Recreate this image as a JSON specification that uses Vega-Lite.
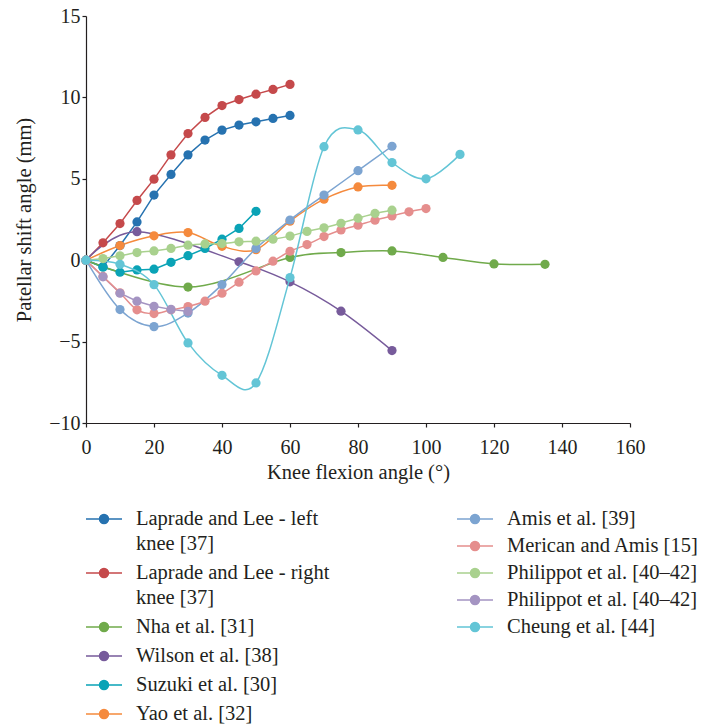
{
  "$schema": "https://vega.github.io/schema/vega-lite/v6.json",
  "width": 544,
  "height": 407,
  "autosize": {"type": "none"},
  "padding": {"left": 86, "top": 16, "right": 75, "bottom": 302},
  "background": "white",
  "config": {
    "font": "'Liberation Serif', 'Times New Roman', 'DejaVu Serif', serif",
    "view": {"stroke": null},
    "axis": {
      "grid": false,
      "domainColor": "#231f20",
      "tickColor": "#231f20",
      "labelColor": "#231f20",
      "titleColor": "#231f20",
      "labelFont": "'Liberation Serif', 'Times New Roman', 'DejaVu Serif', serif",
      "titleFont": "'Liberation Serif', 'Times New Roman', 'DejaVu Serif', serif",
      "labelFontSize": 20,
      "titleFontSize": 20.5,
      "titleFontWeight": "normal",
      "tickSize": 4,
      "domainWidth": 1.2,
      "tickWidth": 1.2,
      "labelFlush": false,
      "labelOverlap": false
    },
    "legend": {
      "labelFont": "'Liberation Serif', 'Times New Roman', 'DejaVu Serif', serif",
      "labelFontSize": 20.5,
      "labelColor": "#231f20",
      "labelLimit": 400,
      "symbolType": "M-1.8,0L1.8,0M-0.45,0A0.45,0.45 0 1,0 0.45,0A0.45,0.45 0 1,0 -0.45,0M-0.32,0A0.32,0.32 0 1,0 0.32,0A0.32,0.32 0 1,0 -0.32,0M-0.2,0A0.2,0.2 0 1,0 0.2,0A0.2,0.2 0 1,0 -0.2,0M-0.08,0A0.08,0.08 0 1,0 0.08,0A0.08,0.08 0 1,0 -0.08,0",
      "symbolSize": 400,
      "symbolStrokeWidth": 1.5,
      "symbolOpacity": 1,
      "rowPadding": 7,
      "padding": 0,
      "offset": 0,
      "labelBaseline": "top"
    }
  },
  "datasets": {
    "d": [
      {"s": "Laprade and Lee - left|knee [37]", "x": 0, "y": 0},
      {"s": "Laprade and Lee - left|knee [37]", "x": 5, "y": -0.4},
      {"s": "Laprade and Lee - left|knee [37]", "x": 10, "y": 0.9},
      {"s": "Laprade and Lee - left|knee [37]", "x": 15, "y": 2.35},
      {"s": "Laprade and Lee - left|knee [37]", "x": 20, "y": 4.0},
      {"s": "Laprade and Lee - left|knee [37]", "x": 25, "y": 5.27},
      {"s": "Laprade and Lee - left|knee [37]", "x": 30, "y": 6.47},
      {"s": "Laprade and Lee - left|knee [37]", "x": 35, "y": 7.38},
      {"s": "Laprade and Lee - left|knee [37]", "x": 40, "y": 7.99},
      {"s": "Laprade and Lee - left|knee [37]", "x": 45, "y": 8.3},
      {"s": "Laprade and Lee - left|knee [37]", "x": 50, "y": 8.5},
      {"s": "Laprade and Lee - left|knee [37]", "x": 55, "y": 8.71},
      {"s": "Laprade and Lee - left|knee [37]", "x": 60, "y": 8.89},
      {"s": "Laprade and Lee - right|knee [37]", "x": 0, "y": 0},
      {"s": "Laprade and Lee - right|knee [37]", "x": 5, "y": 1.07},
      {"s": "Laprade and Lee - right|knee [37]", "x": 10, "y": 2.25},
      {"s": "Laprade and Lee - right|knee [37]", "x": 15, "y": 3.67},
      {"s": "Laprade and Lee - right|knee [37]", "x": 20, "y": 4.98},
      {"s": "Laprade and Lee - right|knee [37]", "x": 25, "y": 6.47},
      {"s": "Laprade and Lee - right|knee [37]", "x": 30, "y": 7.78},
      {"s": "Laprade and Lee - right|knee [37]", "x": 35, "y": 8.77},
      {"s": "Laprade and Lee - right|knee [37]", "x": 40, "y": 9.5},
      {"s": "Laprade and Lee - right|knee [37]", "x": 45, "y": 9.87},
      {"s": "Laprade and Lee - right|knee [37]", "x": 50, "y": 10.2},
      {"s": "Laprade and Lee - right|knee [37]", "x": 55, "y": 10.49},
      {"s": "Laprade and Lee - right|knee [37]", "x": 60, "y": 10.8},
      {"s": "Nha et al. [31]", "x": 0, "y": 0},
      {"s": "Nha et al. [31]", "x": 30, "y": -1.65},
      {"s": "Nha et al. [31]", "x": 60, "y": 0.17},
      {"s": "Nha et al. [31]", "x": 75, "y": 0.47},
      {"s": "Nha et al. [31]", "x": 90, "y": 0.57},
      {"s": "Nha et al. [31]", "x": 105, "y": 0.17},
      {"s": "Nha et al. [31]", "x": 120, "y": -0.23},
      {"s": "Nha et al. [31]", "x": 135, "y": -0.25},
      {"s": "Wilson et al. [38]", "x": 0, "y": 0},
      {"s": "Wilson et al. [38]", "x": 15, "y": 1.75},
      {"s": "Wilson et al. [38]", "x": 45, "y": -0.1},
      {"s": "Wilson et al. [38]", "x": 60, "y": -1.33},
      {"s": "Wilson et al. [38]", "x": 75, "y": -3.13},
      {"s": "Wilson et al. [38]", "x": 90, "y": -5.55},
      {"s": "Suzuki et al. [30]", "x": 0, "y": 0},
      {"s": "Suzuki et al. [30]", "x": 5, "y": -0.43},
      {"s": "Suzuki et al. [30]", "x": 10, "y": -0.74},
      {"s": "Suzuki et al. [30]", "x": 15, "y": -0.6},
      {"s": "Suzuki et al. [30]", "x": 20, "y": -0.55},
      {"s": "Suzuki et al. [30]", "x": 25, "y": -0.13},
      {"s": "Suzuki et al. [30]", "x": 30, "y": 0.28},
      {"s": "Suzuki et al. [30]", "x": 35, "y": 0.72},
      {"s": "Suzuki et al. [30]", "x": 40, "y": 1.29},
      {"s": "Suzuki et al. [30]", "x": 45, "y": 1.95},
      {"s": "Suzuki et al. [30]", "x": 50, "y": 3.0},
      {"s": "Yao et al. [32]", "x": 0, "y": 0},
      {"s": "Yao et al. [32]", "x": 10, "y": 0.9},
      {"s": "Yao et al. [32]", "x": 20, "y": 1.5},
      {"s": "Yao et al. [32]", "x": 30, "y": 1.7},
      {"s": "Yao et al. [32]", "x": 40, "y": 0.85},
      {"s": "Yao et al. [32]", "x": 50, "y": 0.65},
      {"s": "Yao et al. [32]", "x": 60, "y": 2.4},
      {"s": "Yao et al. [32]", "x": 70, "y": 3.75},
      {"s": "Yao et al. [32]", "x": 80, "y": 4.5},
      {"s": "Yao et al. [32]", "x": 90, "y": 4.6},
      {"s": "Amis et al. [39]", "x": 0, "y": 0},
      {"s": "Amis et al. [39]", "x": 10, "y": -3.03},
      {"s": "Amis et al. [39]", "x": 20, "y": -4.08},
      {"s": "Amis et al. [39]", "x": 30, "y": -3.25},
      {"s": "Amis et al. [39]", "x": 40, "y": -1.5},
      {"s": "Amis et al. [39]", "x": 50, "y": 0.72},
      {"s": "Amis et al. [39]", "x": 60, "y": 2.47},
      {"s": "Amis et al. [39]", "x": 70, "y": 4.0},
      {"s": "Amis et al. [39]", "x": 80, "y": 5.5},
      {"s": "Amis et al. [39]", "x": 90, "y": 7.0},
      {"s": "Merican and Amis [15]", "x": 0, "y": 0},
      {"s": "Merican and Amis [15]", "x": 5, "y": -1.0},
      {"s": "Merican and Amis [15]", "x": 10, "y": -2.0},
      {"s": "Merican and Amis [15]", "x": 15, "y": -3.05},
      {"s": "Merican and Amis [15]", "x": 20, "y": -3.28},
      {"s": "Merican and Amis [15]", "x": 25, "y": -3.05},
      {"s": "Merican and Amis [15]", "x": 30, "y": -2.85},
      {"s": "Merican and Amis [15]", "x": 35, "y": -2.52},
      {"s": "Merican and Amis [15]", "x": 40, "y": -2.03},
      {"s": "Merican and Amis [15]", "x": 45, "y": -1.35},
      {"s": "Merican and Amis [15]", "x": 50, "y": -0.66},
      {"s": "Merican and Amis [15]", "x": 55, "y": -0.06},
      {"s": "Merican and Amis [15]", "x": 60, "y": 0.55},
      {"s": "Merican and Amis [15]", "x": 65, "y": 0.96},
      {"s": "Merican and Amis [15]", "x": 70, "y": 1.45},
      {"s": "Merican and Amis [15]", "x": 75, "y": 1.86},
      {"s": "Merican and Amis [15]", "x": 80, "y": 2.15},
      {"s": "Merican and Amis [15]", "x": 85, "y": 2.46},
      {"s": "Merican and Amis [15]", "x": 90, "y": 2.72},
      {"s": "Merican and Amis [15]", "x": 95, "y": 2.97},
      {"s": "Merican and Amis [15]", "x": 100, "y": 3.17},
      {"s": "Philippot et al. [40–42]", "x": 0, "y": 0},
      {"s": "Philippot et al. [40–42]", "x": 5, "y": 0.1},
      {"s": "Philippot et al. [40–42]", "x": 10, "y": 0.27},
      {"s": "Philippot et al. [40–42]", "x": 15, "y": 0.47},
      {"s": "Philippot et al. [40–42]", "x": 20, "y": 0.57},
      {"s": "Philippot et al. [40–42]", "x": 25, "y": 0.72},
      {"s": "Philippot et al. [40–42]", "x": 30, "y": 0.92},
      {"s": "Philippot et al. [40–42]", "x": 35, "y": 1.0},
      {"s": "Philippot et al. [40–42]", "x": 40, "y": 1.02},
      {"s": "Philippot et al. [40–42]", "x": 45, "y": 1.13},
      {"s": "Philippot et al. [40–42]", "x": 50, "y": 1.17},
      {"s": "Philippot et al. [40–42]", "x": 55, "y": 1.29},
      {"s": "Philippot et al. [40–42]", "x": 60, "y": 1.48},
      {"s": "Philippot et al. [40–42]", "x": 65, "y": 1.77},
      {"s": "Philippot et al. [40–42]", "x": 70, "y": 1.99},
      {"s": "Philippot et al. [40–42]", "x": 75, "y": 2.27},
      {"s": "Philippot et al. [40–42]", "x": 80, "y": 2.58},
      {"s": "Philippot et al. [40–42]", "x": 85, "y": 2.87},
      {"s": "Philippot et al. [40–42]", "x": 90, "y": 3.07},
      {"s": "Philippot et al. [40–42] ", "x": 0, "y": 0},
      {"s": "Philippot et al. [40–42] ", "x": 5, "y": -1.02},
      {"s": "Philippot et al. [40–42] ", "x": 10, "y": -2.03},
      {"s": "Philippot et al. [40–42] ", "x": 15, "y": -2.52},
      {"s": "Philippot et al. [40–42] ", "x": 20, "y": -2.83},
      {"s": "Philippot et al. [40–42] ", "x": 25, "y": -3.02},
      {"s": "Philippot et al. [40–42] ", "x": 30, "y": -3.15},
      {"s": "Cheung et al. [44]", "x": 0, "y": 0},
      {"s": "Cheung et al. [44]", "x": 10, "y": -0.25},
      {"s": "Cheung et al. [44]", "x": 20, "y": -1.5},
      {"s": "Cheung et al. [44]", "x": 30, "y": -5.08},
      {"s": "Cheung et al. [44]", "x": 40, "y": -7.07},
      {"s": "Cheung et al. [44]", "x": 50, "y": -7.54},
      {"s": "Cheung et al. [44]", "x": 60, "y": -1.07},
      {"s": "Cheung et al. [44]", "x": 70, "y": 6.97},
      {"s": "Cheung et al. [44]", "x": 80, "y": 8.0},
      {"s": "Cheung et al. [44]", "x": 90, "y": 6.0},
      {"s": "Cheung et al. [44]", "x": 100, "y": 5.0},
      {"s": "Cheung et al. [44]", "x": 110, "y": 6.5}
    ]
  },
  "data": {"name": "d"},
  "encoding": {
    "x": {
      "field": "x", "type": "quantitative",
      "scale": {"domain": [0, 160], "nice": false},
      "axis": {"values": [0, 20, 40, 60, 80, 100, 120, 140, 160], "title": "Knee flexion angle (°)", "labelPadding": 10, "titlePadding": 5}
    },
    "y": {
      "field": "y", "type": "quantitative",
      "scale": {"domain": [-10, 15], "nice": false},
      "axis": {"values": [-10, -5, 0, 5, 10, 15], "title": "Patellar shift angle (mm)", "labelPadding": 2, "titlePadding": 14}
    }
  },
  "layer": [
    {
      "transform": [{"filter": {"field": "s", "oneOf": ["Laprade and Lee - left|knee [37]", "Laprade and Lee - right|knee [37]", "Nha et al. [31]", "Wilson et al. [38]", "Suzuki et al. [30]", "Yao et al. [32]"]}}],
      "encoding": {
        "color": {
          "field": "s", "type": "nominal",
          "scale": {
            "domain": ["Laprade and Lee - left|knee [37]", "Laprade and Lee - right|knee [37]", "Nha et al. [31]", "Wilson et al. [38]", "Suzuki et al. [30]", "Yao et al. [32]"],
            "range": ["#2672b0", "#c5494b", "#70aa4b", "#775b9b", "#0aa3b6", "#f58a3d"]
          },
          "legend": {
            "title": null, "orient": "none", "legendX": 7, "legendY": 492,
            "labelOffset": 21,
            "labelExpr": "split(datum.label, '|')",
            "encode": {"labels": {"update": {"dy": {"value": -10}, "lineHeight": {"value": 25}}}}
          }
        }
      },
      "layer": [
        {
          "transform": [{"filter": {"field": "s", "oneOf": ["Laprade and Lee - left|knee [37]", "Laprade and Lee - right|knee [37]", "Suzuki et al. [30]"]}}],
          "mark": {"type": "line", "strokeWidth": 1.5}
        },
        {
          "transform": [{"filter": {"field": "s", "oneOf": ["Nha et al. [31]", "Wilson et al. [38]", "Yao et al. [32]"]}}],
          "mark": {"type": "line", "strokeWidth": 1.5, "interpolate": "cardinal"}
        },
        {"mark": {"type": "circle", "size": 85, "opacity": 1}}
      ]
    },
    {
      "transform": [{"filter": {"field": "s", "oneOf": ["Amis et al. [39]", "Merican and Amis [15]", "Philippot et al. [40–42]", "Philippot et al. [40–42] ", "Cheung et al. [44]"]}}],
      "encoding": {
        "color": {
          "field": "s", "type": "nominal",
          "scale": {
            "domain": ["Amis et al. [39]", "Merican and Amis [15]", "Philippot et al. [40–42]", "Philippot et al. [40–42] ", "Cheung et al. [44]"],
            "range": ["#7ca4d1", "#e58e8d", "#a9d18e", "#a494c2", "#63c5d6"]
          },
          "legend": {
            "title": null, "orient": "none", "legendX": 378, "legendY": 492,
            "labelOffset": 21,
            "rowPadding": 5,
            "encode": {"labels": {"update": {"dy": {"value": -10}}}}
          }
        }
      },
      "layer": [
        {
          "transform": [{"filter": {"field": "s", "oneOf": ["Philippot et al. [40–42] "]}}],
          "mark": {"type": "line", "strokeWidth": 1.5}
        },
        {
          "transform": [{"filter": {"field": "s", "oneOf": ["Amis et al. [39]", "Merican and Amis [15]", "Philippot et al. [40–42]", "Cheung et al. [44]"]}}],
          "mark": {"type": "line", "strokeWidth": 1.5, "interpolate": "cardinal"}
        },
        {"mark": {"type": "circle", "size": 85, "opacity": 1}}
      ]
    }
  ],
  "resolve": {"scale": {"color": "independent"}, "legend": {"color": "independent"}}
}
